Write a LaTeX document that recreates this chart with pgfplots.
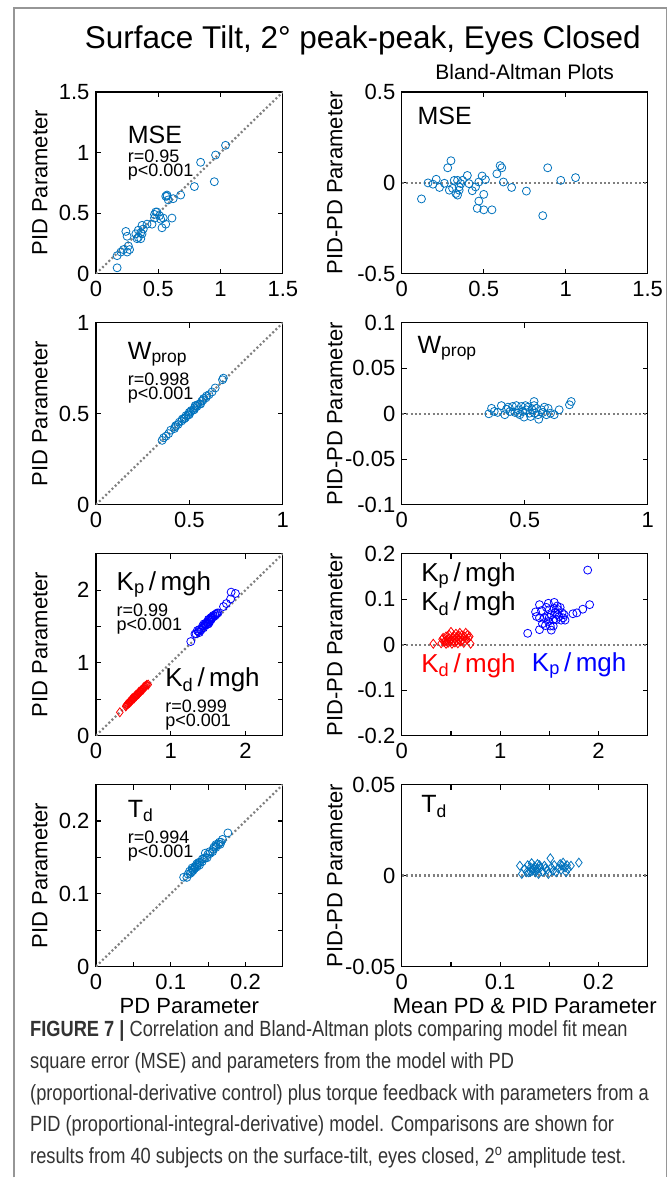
\documentclass[border=0pt]{standalone}
\usepackage{fontspec}
\setmainfont{Liberation Sans}
\newfontfamily\capfont[FakeStretch=0.83]{Liberation Sans}
\usepackage{pgfplots}
\pgfplotsset{compat=1.18}

\definecolor{mblue}{RGB}{0,114,189}
\definecolor{dotgray}{RGB}{128,128,128}
\definecolor{framegray}{RGB}{150,150,150}

\newcommand{\fs}[1]{\fontsize{#1}{#1}\selectfont}

\pgfplotsset{
  panel/.style={
    scale only axis,
    axis line style={black, line width=1.2pt},
    tick style={black, line width=1.1pt},
    tick align=inside,
    tick pos=both,
    major tick length=5pt,
    ticklabel style={font=\fs{22}},
    xticklabel style={yshift=-4pt},
    yticklabel style={xshift=-3pt},
    /pgf/number format/assume math mode=true,
    scaled ticks=false,
  },
  left/.style={panel, width=187pt, height=182pt},
  right/.style={panel, width=246pt, height=182pt},
  pts/.style={only marks, mark=o, mark size=4pt, mark options={line width=0.8pt}},
  dia/.style={only marks, mark=diamond, mark size=4.5pt, mark options={line width=0.8pt}},
  refl/.style={dotgray, line width=2.2pt, dash pattern=on 2pt off 2.4pt},
}
\tikzset{stat/.style={anchor=north west, font=\fontsize{18}{14}\selectfont, align=left, inner sep=0pt}}

\begin{document}
\begin{tikzpicture}[x=1pt,y=1pt]
\path (0,0) rectangle (670,-1178);
\draw[framegray, line width=1.2pt] (14,-1178) -- (14,-8) -- (667,-8) -- (667,-1178);

\node[font=\fs{31.5}] at (363,-40) {Surface Tilt, 2° peak-peak, Eyes Closed};
\node[font=\fs{21}] at (525,-72) {Bland-Altman Plots};

% ---------- row 1: MSE ----------
\begin{axis}[left, at={(96pt,-92pt)}, anchor=north west,
  xmin=0, xmax=1.5, ymin=0, ymax=1.5,
  xtick={0,0.5,1,1.5}, xticklabels={0,0.5,1,1.5},
  ytick={0,0.5,1,1.5}, yticklabels={0,0.5,1,1.5}]
\addplot[refl] coordinates {(0,0) (1.5,1.5)};
\addplot[pts, mblue] coordinates {
(0.17,0.05) (0.17,0.15) (0.20,0.18) (0.22,0.20) (0.25,0.18) (0.24,0.35)
(0.25,0.31) (0.26,0.23) (0.27,0.20) (0.32,0.33) (0.33,0.29) (0.34,0.30)
(0.36,0.34) (0.36,0.29) (0.37,0.33) (0.37,0.40) (0.38,0.37) (0.34,0.36)
(0.45,0.41) (0.47,0.49) (0.47,0.46) (0.49,0.51) (0.51,0.48) (0.52,0.45)
(0.53,0.38) (0.56,0.41) (0.54,0.46) (0.61,0.46) (0.56,0.64) (0.57,0.64)
(0.58,0.61) (0.68,0.65) (0.79,0.72) (0.95,0.76) (0.84,0.92) (0.96,0.98)
(1.04,1.06) (0.57,0.65) (0.41,0.41) (0.48,0.51) (0.62,0.62)
};
\node[anchor=south west, font=\fs{25}, inner sep=0pt] at (rel axis cs:0.17,0.715) {MSE};
\node[stat] at (rel axis cs:0.17,0.68) {r=0.95\\p<0.001};
\end{axis}

\begin{axis}[right, at={(402pt,-92pt)}, anchor=north west,
  xmin=0, xmax=1.5, ymin=-0.5, ymax=0.5,
  xtick={0,0.5,1,1.5}, xticklabels={0,0.5,1,1.5},
  ytick={-0.5,0,0.5}, yticklabels={-0.5,0,0.5}]
\addplot[refl] coordinates {(0,0) (1.5,0)};
\addplot[pts, mblue] coordinates {
(0.12,-0.088) (0.16,0.0) (0.19,-0.007) (0.21,0.02) (0.23,-0.025) (0.26,-0.002)
(0.28,0.083) (0.30,0.122) (0.31,-0.03) (0.32,0.014) (0.33,-0.058) (0.34,-0.067)
(0.34,0.014) (0.35,-0.022) (0.35,-0.04) (0.36,-0.004) (0.37,0.014) (0.40,0.041)
(0.41,-0.004) (0.43,-0.043) (0.45,-0.022) (0.46,-0.14) (0.47,-0.10) (0.49,0.038)
(0.50,-0.148) (0.47,0.005) (0.50,-0.063) (0.51,0.018) (0.55,-0.148) (0.58,0.05)
(0.60,0.095) (0.61,0.083) (0.62,0.005) (0.67,-0.025) (0.76,-0.045) (0.86,-0.18)
(0.89,0.083) (0.97,0.014) (1.06,0.029) (0.29,-0.04)
};
\node[anchor=west, font=\fs{25}] at (rel axis cs:0.05,0.87) {MSE};
\end{axis}

% ---------- row 2: W_prop ----------
\begin{axis}[left, at={(96pt,-323pt)}, anchor=north west,
  xmin=0, xmax=1, ymin=0, ymax=1,
  xtick={0,0.5,1}, xticklabels={0,0.5,1},
  ytick={0,0.5,1}, yticklabels={0,0.5,1}]
\addplot[refl] coordinates {(0,0) (1,1)};
\addplot[pts, mblue] coordinates {
(0.354,0.354) (0.362,0.368) (0.375,0.377) (0.389,0.391) (0.400,0.410)
(0.420,0.419) (0.424,0.429) (0.439,0.441) (0.446,0.454) (0.459,0.461)
(0.462,0.471) (0.471,0.475) (0.480,0.480) (0.482,0.490) (0.492,0.494)
(0.499,0.495) (0.499,0.508) (0.505,0.509) (0.510,0.518) (0.520,0.520)
(0.526,0.523) (0.528,0.532) (0.531,0.545) (0.540,0.540) (0.544,0.550)
(0.555,0.554) (0.560,0.554) (0.566,0.570) (0.573,0.575) (0.576,0.584)
(0.589,0.588) (0.592,0.598) (0.605,0.605) (0.621,0.620) (0.638,0.642)
(0.677,0.687) (0.682,0.696) (0.534,0.543) (0.473,0.473) (0.428,0.436)
};
\node[anchor=base west, font=\fs{25}, inner sep=0pt] at (rel axis cs:0.17,0.8) {W\textsubscript{prop}};
\node[stat] at (rel axis cs:0.17,0.725) {r=0.998\\p<0.001};
\end{axis}

\begin{axis}[right, at={(402pt,-323pt)}, anchor=north west,
  xmin=0, xmax=1, ymin=-0.1, ymax=0.1,
  xtick={0,0.5,1}, xticklabels={0,0.5,1},
  ytick={-0.1,-0.05,0,0.05,0.1}, yticklabels={-0.1,-0.05,0,0.05,0.1}]
\addplot[refl] coordinates {(0,0) (1,0)};
\addplot[pts, mblue] coordinates {
(0.354,0.0) (0.365,0.006) (0.376,0.0026) (0.39,0.0015) (0.405,0.009)
(0.419,-0.001) (0.426,0.005) (0.44,0.0026) (0.45,0.008) (0.46,0.0015)
(0.466,0.009) (0.473,0.0044) (0.48,-0.001) (0.486,0.008) (0.493,0.0026)
(0.497,-0.0036) (0.503,0.009) (0.507,0.0044) (0.514,0.0073) (0.52,0.0007)
(0.524,-0.003) (0.53,0.0044) (0.538,0.0135) (0.54,0.0007) (0.547,0.006)
(0.554,-0.001) (0.557,-0.006) (0.568,0.0044) (0.574,0.0015) (0.58,0.0073)
(0.588,-0.001) (0.595,0.006) (0.605,0.0007) (0.62,-0.001) (0.64,0.0044)
(0.682,0.0099) (0.689,0.0135) (0.538,0.009) (0.473,0.0007) (0.432,0.0073)
};
\node[anchor=west, font=\fs{25}] at (rel axis cs:0.05,0.86) {W\textsubscript{prop}};
\end{axis}

% ---------- row 3: Kp/mgh, Kd/mgh ----------
\begin{axis}[left, at={(96pt,-554pt)}, anchor=north west,
  xmin=0, xmax=2.5, ymin=0, ymax=2.5,
  xtick={0,1,2}, xticklabels={0,1,2},
  ytick={0,0.5,1,1.5,2}, yticklabels={0,,1,,2}]
\addplot[refl] coordinates {(0,0) (2.5,2.5)};
\addplot[pts, blue] coordinates {
(1.268,1.293) (1.324,1.396) (1.356,1.444) (1.371,1.430) (1.384,1.417)
(1.383,1.458) (1.407,1.453) (1.421,1.480) (1.439,1.481) (1.429,1.511)
(1.449,1.511) (1.465,1.516) (1.462,1.539) (1.490,1.531) (1.504,1.536)
(1.487,1.553) (1.513,1.568) (1.504,1.597) (1.510,1.590) (1.525,1.596)
(1.543,1.598) (1.538,1.623) (1.547,1.613) (1.552,1.629) (1.569,1.631)
(1.569,1.651) (1.593,1.647) (1.595,1.665) (1.611,1.670) (1.617,1.683)
(1.633,1.687) (1.706,1.774) (1.745,1.815) (1.801,1.879) (1.866,1.954)
(1.808,1.972) (1.470,1.530) (1.445,1.536) (1.339,1.401) (1.520,1.561)
};
\addplot[dia, red] coordinates {
(0.319,0.321) (0.399,0.402) (0.404,0.416) (0.413,0.428) (0.427,0.433)
(0.436,0.444) (0.441,0.459) (0.449,0.451) (0.455,0.465) (0.468,0.472)
(0.473,0.487) (0.469,0.491) (0.487,0.494) (0.494,0.506) (0.486,0.514)
(0.509,0.511) (0.512,0.528) (0.516,0.524) (0.520,0.540) (0.538,0.543)
(0.534,0.546) (0.538,0.562) (0.556,0.565) (0.552,0.568) (0.569,0.572)
(0.570,0.590) (0.575,0.586) (0.577,0.603) (0.597,0.604) (0.593,0.608)
(0.600,0.621) (0.615,0.625) (0.628,0.632) (0.631,0.649) (0.637,0.663)
(0.654,0.666) (0.659,0.681) (0.673,0.688) (0.681,0.699) (0.699,0.701)
};
\node[anchor=base west, font=\fs{26}, inner sep=0pt] at (rel axis cs:0.11,0.8) {K\textsubscript{p}\,/\,mgh};
\node[stat] at (rel axis cs:0.11,0.725) {r=0.99\\p<0.001};
\node[anchor=base west, font=\fs{26}, inner sep=0pt] at (rel axis cs:0.37,0.27) {K\textsubscript{d}\,/\,mgh};
\node[stat] at (rel axis cs:0.37,0.195) {r=0.999\\p<0.001};
\end{axis}

\begin{axis}[right, at={(402pt,-554pt)}, anchor=north west,
  xmin=0, xmax=2.5, ymin=-0.2, ymax=0.2,
  xtick={0,0.5,1,1.5,2}, xticklabels={0,,1,,2},
  ytick={-0.2,-0.1,0,0.1,0.2}, yticklabels={-0.2,-0.1,0,0.1,0.2}]
\addplot[refl] coordinates {(0,0) (2.5,0)};
\addplot[pts, blue] coordinates {
(1.28,0.025) (1.36,0.072) (1.40,0.088) (1.40,0.059) (1.40,0.033)
(1.42,0.075) (1.43,0.046) (1.45,0.059) (1.46,0.042) (1.47,0.082)
(1.48,0.062) (1.49,0.051) (1.50,0.077) (1.51,0.041) (1.52,0.032)
(1.52,0.066) (1.54,0.055) (1.55,0.093) (1.55,0.080) (1.56,0.071)
(1.57,0.055) (1.58,0.085) (1.58,0.066) (1.59,0.077) (1.60,0.062)
(1.61,0.082) (1.62,0.054) (1.63,0.070) (1.64,0.059) (1.65,0.066)
(1.66,0.054) (1.74,0.068) (1.78,0.070) (1.84,0.078) (1.91,0.088)
(1.89,0.164) (1.50,0.060) (1.49,0.091) (1.37,0.062) (1.54,0.041)
};
\addplot[dia, red] coordinates {
(0.32,0.002) (0.40,0.003) (0.41,0.012) (0.42,0.015) (0.43,0.006)
(0.44,0.008) (0.45,0.018) (0.45,0.002) (0.46,0.010) (0.47,0.004)
(0.48,0.014) (0.48,0.022) (0.49,0.007) (0.50,0.012) (0.50,0.028)
(0.51,0.002) (0.52,0.016) (0.52,0.008) (0.53,0.020) (0.54,0.005)
(0.54,0.012) (0.55,0.024) (0.56,0.009) (0.56,0.016) (0.57,0.003)
(0.58,0.020) (0.58,0.011) (0.59,0.026) (0.60,0.007) (0.60,0.015)
(0.61,0.021) (0.62,0.010) (0.63,0.004) (0.64,0.018) (0.65,0.026)
(0.66,0.012) (0.67,0.022) (0.68,0.015) (0.69,0.018) (0.70,0.002)
};
\node[anchor=west, font=\fs{26}] at (rel axis cs:0.065,0.88) {K\textsubscript{p}\,/\,mgh};
\node[anchor=west, font=\fs{26}] at (rel axis cs:0.065,0.725) {K\textsubscript{d}\,/\,mgh};
\node[anchor=west, font=\fs{26}, red] at (rel axis cs:0.065,0.385) {K\textsubscript{d}\,/\,mgh};
\node[anchor=west, font=\fs{26}, blue] at (rel axis cs:0.515,0.385) {K\textsubscript{p}\,/\,mgh};
\end{axis}

% ---------- row 4: Td ----------
\begin{axis}[left, at={(96pt,-785pt)}, anchor=north west,
  xmin=0, xmax=0.25, ymin=0, ymax=0.25,
  xtick={0,0.05,0.1,0.15,0.2}, xticklabels={0,,0.1,,0.2},
  ytick={0,0.05,0.1,0.15,0.2}, yticklabels={0,,0.1,,0.2},
  xlabel={PD Parameter}, xlabel style={font=\fs{22}, yshift=-2pt}]
\addplot[refl] coordinates {(0,0) (0.25,0.25)};
\addplot[pts, mblue] coordinates {
(0.1173,0.1227) (0.1216,0.1225) (0.1232,0.1268) (0.1252,0.1309) (0.1281,0.1299)
(0.1288,0.1333) (0.1286,0.1354) (0.1317,0.1344) (0.1322,0.1358) (0.1325,0.1375)
(0.1351,0.1369) (0.1354,0.1386) (0.1349,0.1412) (0.1360,0.1400) (0.1386,0.1395)
(0.1388,0.1433) (0.1420,0.1441) (0.1423,0.1477) (0.1464,0.1496) (0.1486,0.1495)
(0.1463,0.1558) (0.1498,0.1543) (0.1527,0.1554) (0.1522,0.1579) (0.1561,0.1579)
(0.1570,0.1610) (0.1579,0.1642) (0.1604,0.1636) (0.1603,0.1657) (0.1605,0.1676)
(0.1638,0.1683) (0.1661,0.1679) (0.1652,0.1709) (0.1672,0.1708) (0.1693,0.1747)
(0.1765,0.1836) (0.1300,0.1321) (0.1372,0.1429) (0.1440,0.1480) (0.1261,0.1279)
};
\node[anchor=base west, font=\fs{25}, inner sep=0pt] at (rel axis cs:0.17,0.82) {T\textsubscript{d}};
\node[stat] at (rel axis cs:0.17,0.745) {r=0.994\\p<0.001};
\end{axis}

\begin{axis}[right, at={(402pt,-785pt)}, anchor=north west,
  xmin=0, xmax=0.25, ymin=-0.05, ymax=0.05,
  xtick={0,0.05,0.1,0.15,0.2}, xticklabels={0,,0.1,,0.2},
  ytick={-0.05,0,0.05}, yticklabels={-0.05,0,0.05},
  xlabel={Mean PD \& PID Parameter}, xlabel style={font=\fs{22}, yshift=-2pt}]
\addplot[refl] coordinates {(0,0) (0.25,0)};
\addplot[dia, mblue] coordinates {
(0.120,0.0054) (0.122,0.0009) (0.125,0.0036) (0.128,0.0057) (0.129,0.0018)
(0.131,0.0045) (0.132,0.0068) (0.133,0.0027) (0.134,0.0036) (0.135,0.005)
(0.136,0.0018) (0.137,0.0032) (0.138,0.0063) (0.138,0.004) (0.139,0.0009)
(0.141,0.0045) (0.143,0.0021) (0.145,0.0054) (0.148,0.0032) (0.149,0.0009)
(0.151,0.0095) (0.152,0.0045) (0.154,0.0027) (0.155,0.0057) (0.157,0.0018)
(0.159,0.004) (0.161,0.0063) (0.162,0.0032) (0.163,0.0054) (0.164,0.0071)
(0.166,0.0045) (0.167,0.0018) (0.168,0.0057) (0.169,0.0036) (0.172,0.0054)
(0.180,0.0071) (0.131,0.0021) (0.140,0.0057) (0.146,0.004) (0.127,0.0018)
};
\node[anchor=west, font=\fs{25}] at (rel axis cs:0.065,0.88) {T\textsubscript{d}};
\end{axis}

% ---------- y labels ----------
\foreach \yc in {183,414,645,876} {
  \node[rotate=90, font=\fs{22}] at (40,-\yc) {PID Parameter};
  \node[rotate=90, font=\fs{22}] at (335,-\yc) {PID-PD Parameter};
}

% ---------- caption ----------
\begin{scope}[every node/.style={anchor=base west, font=\capfont\fs{22}, text=black!80, inner sep=0pt}]
\node at (30,-1037) {\textbf{FIGURE 7 |} Correlation and Bland-Altman plots comparing model fit mean};
\node at (30,-1069) {square error (MSE) and parameters from the model with PD};
\node at (30,-1101) {(proportional-derivative control) plus torque feedback with parameters from a};
\node at (30,-1132) {PID (proportional-integral-derivative) model. Comparisons are shown for};
\node at (30,-1164) {results from 40 subjects on the surface-tilt, eyes closed, 2\textsuperscript{o} amplitude test.};
\end{scope}
\end{tikzpicture}
\end{document}
